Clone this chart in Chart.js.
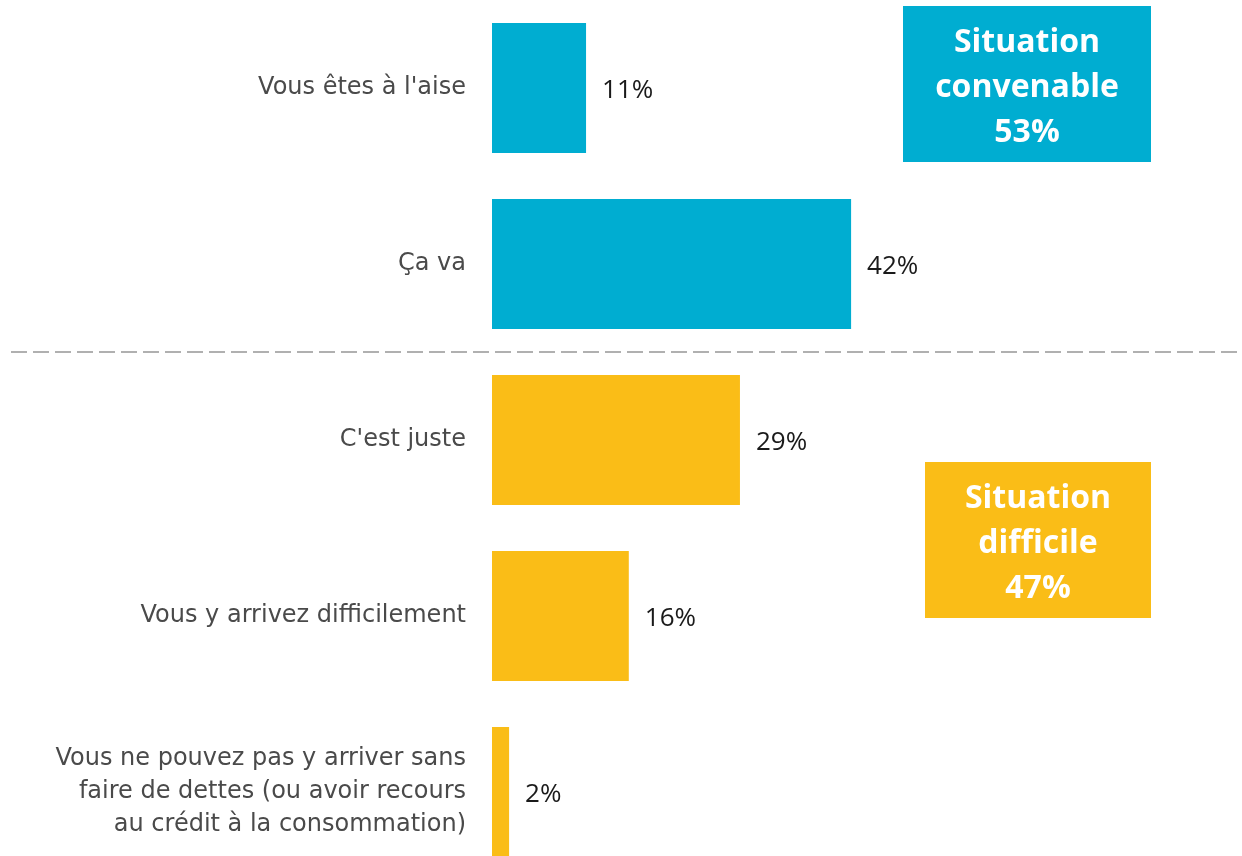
<!DOCTYPE html>
<html>
<head>
<meta charset="utf-8">
<script src="https://cdn.jsdelivr.net/npm/chart.js@4"></script>
<style>
  html, body { margin: 0; padding: 0; background: #fff; overflow: hidden; }
  #wrap { position: relative; width: 1242px; height: 880px; }
</style>
</head>
<body>
<div id="wrap"><canvas id="chart"></canvas></div>
<script>
// Survey answers, top to bottom
const categories = [
  "Vous êtes à l'aise",
  "Ça va",
  "C'est juste",
  "Vous y arrivez difficilement",
  ["Vous ne pouvez pas y arriver sans", "faire de dettes (ou avoir recours", "au crédit à la consommation)"]
];
const values = [11, 42, 29, 16, 2];
// 0 = situation convenable, 1 = situation difficile
const groupOf = [0, 0, 1, 1, 1];
const groupTitles = [["Situation", "convenable"], ["Situation", "difficile"]];
const groupColors = ['#00ADD1', '#FABD17'];

const FONT = "'Open Sans', sans-serif";
const LABEL_FONT = "'DejaVu Sans', sans-serif";

// Summary boxes on the right side
const boxes = [
  { x: 903, y: 6, w: 248, h: 156 },
  { x: 925, y: 462, w: 226, h: 156 }
];

const overlay = {
  id: 'overlay',
  afterDatasetsDraw(chart) {
    const ctx = chart.ctx;
    const bars = chart.getDatasetMeta(0).data;

    // value labels to the right of each bar
    ctx.save();
    ctx.font = '26px ' + FONT;
    ctx.fillStyle = '#1a1a1a';
    ctx.textAlign = 'left';
    ctx.textBaseline = 'middle';
    bars.forEach((bar, i) => {
      ctx.fillText(values[i] + '%', bar.x + 16, bar.y + 3);
    });

    // dashed separator between the two groups
    const sepY = Math.round((bars[1].y + bars[2].y) / 2);
    ctx.strokeStyle = '#b0b0b0';
    ctx.lineWidth = 2;
    ctx.setLineDash([16, 6]);
    ctx.beginPath();
    ctx.moveTo(11, sepY);
    ctx.lineTo(1240, sepY);
    ctx.stroke();
    ctx.setLineDash([]);

    // group totals
    boxes.forEach((b, g) => {
      const total = values.reduce((s, v, i) => s + (groupOf[i] === g ? v : 0), 0);
      ctx.fillStyle = groupColors[g];
      ctx.fillRect(b.x, b.y, b.w, b.h);
      ctx.fillStyle = '#ffffff';
      ctx.font = 'bold 32px ' + FONT;
      ctx.textAlign = 'center';
      const lines = [...groupTitles[g], total + '%'];
      const cx = b.x + b.w / 2;
      lines.forEach((t, k) => ctx.fillText(t, cx, b.y + 37 + k * 45));
    });
    ctx.restore();
  }
};

new Chart(document.getElementById('chart'), {
  type: 'bar',
  data: {
    labels: categories,
    datasets: [{
      data: values,
      backgroundColor: groupOf.map(g => groupColors[g]),
      barPercentage: 130 / 176,
      categoryPercentage: 1
    }]
  },
  options: {
    indexAxis: 'y',
    responsive: true,
    maintainAspectRatio: false,
    animation: false,
    layout: { padding: 0 },
    plugins: { legend: { display: false }, tooltip: { enabled: false } },
    scales: {
      x: { display: false, min: 0, max: 750 / 8.55 },
      y: {
        grid: { display: false, drawTicks: false },
        border: { display: false },
        afterFit(scale) {
          scale.width = 492;
          scale.paddingTop = 0;
          scale.paddingBottom = 0;
        },
        ticks: {
          padding: 26,
          color: '#4a4a4a',
          font: { family: LABEL_FONT, size: 24, lineHeight: 1.375 }
        }
      }
    }
  },
  plugins: [overlay]
});
</script>
</body>
</html>
